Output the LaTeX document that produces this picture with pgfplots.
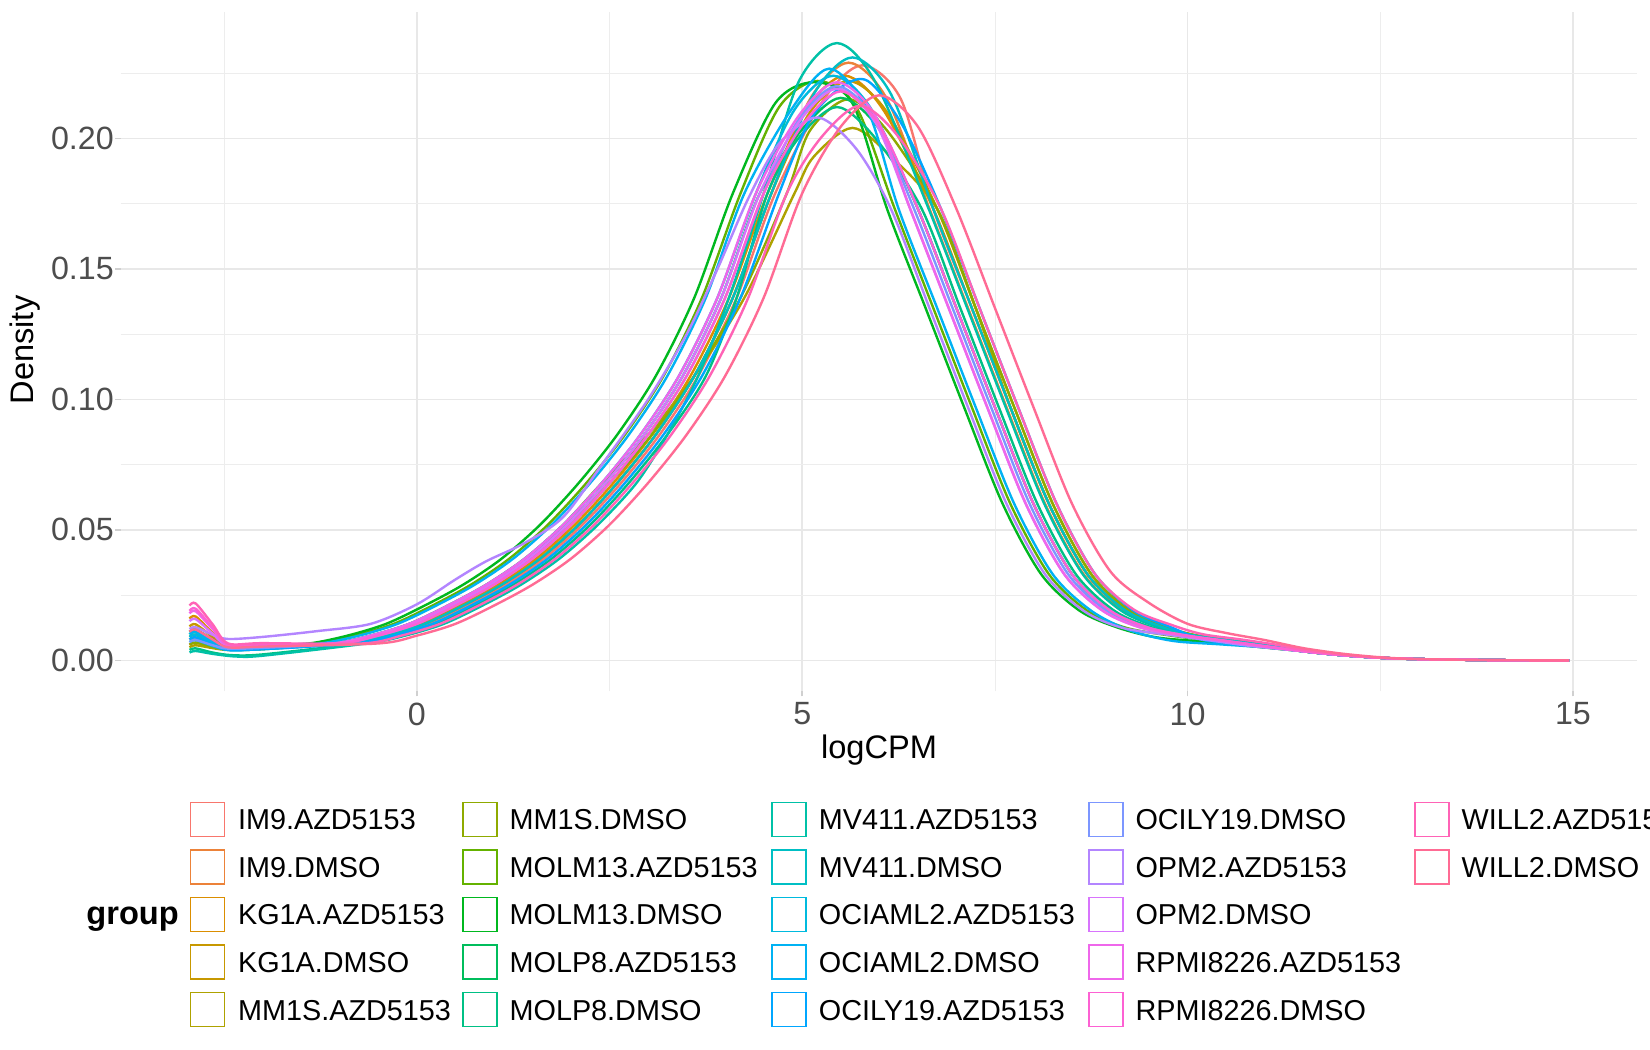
\documentclass[border=0pt]{standalone}
\usepackage{fontspec}
\setmainfont{Liberation Sans}
\usepackage{pgfplots}
\pgfplotsset{compat=1.18}
\definecolor{c0}{HTML}{F8766D}
\definecolor{c1}{HTML}{EC8239}
\definecolor{c2}{HTML}{DB8E00}
\definecolor{c3}{HTML}{C79800}
\definecolor{c4}{HTML}{AEA200}
\definecolor{c5}{HTML}{8FAA00}
\definecolor{c6}{HTML}{64B200}
\definecolor{c7}{HTML}{00B81F}
\definecolor{c8}{HTML}{00BD5C}
\definecolor{c9}{HTML}{00C085}
\definecolor{c10}{HTML}{00C1A7}
\definecolor{c11}{HTML}{00BFC4}
\definecolor{c12}{HTML}{00BADE}
\definecolor{c13}{HTML}{00B2F3}
\definecolor{c14}{HTML}{00A6FF}
\definecolor{c15}{HTML}{7C96FF}
\definecolor{c16}{HTML}{B385FF}
\definecolor{c17}{HTML}{D874FD}
\definecolor{c18}{HTML}{EF67EB}
\definecolor{c19}{HTML}{FD61D3}
\definecolor{c20}{HTML}{FF63B6}
\definecolor{c21}{HTML}{FF6B94}
\definecolor{gridc}{HTML}{E8E8E8}
\definecolor{mgridc}{HTML}{EDEDED}
\definecolor{tickc}{HTML}{D0D0D0}
\definecolor{grey30}{HTML}{4D4D4D}
\pgfplotsset{dens/.style={smooth, line width=1.2bp, mark=none}}
\newcommand{\tickfont}{\fontsize{16.1bp}{19bp}\selectfont}
\newcommand{\legfont}{\fontsize{14.4bp}{17bp}\selectfont}
\newcommand{\titfont}{\fontsize{16.3bp}{19bp}\selectfont}
\begin{document}
\begin{tikzpicture}
\path[use as bounding box] (0,0) rectangle (825bp,525bp);
\clip (0,0) rectangle (825bp,525bp);
\fill[white] (0,0) rectangle (825bp,525bp);
\begin{axis}[
  at={(60.25bp,179.4bp)}, anchor=south west,
  scale only axis, width=758.45bp, height=339.45bp,
  xmin=-3.846, xmax=15.836, ymin=-0.0118, ymax=0.2483,
  axis line style={draw=none},
  xtick={0,5,10,15}, ytick={0,0.05,0.1,0.15,0.2},
  minor xtick={-2.5,2.5,7.5,12.5},
  minor ytick={0.025,0.075,0.125,0.175,0.225},
  grid=both,
  major grid style={line width=0.8bp, draw=gridc},
  minor grid style={line width=0.45bp, draw=mgridc},
  tick align=outside, major tick length=2.6bp, minor tick length=0pt,
  xtick pos=bottom, ytick pos=left,
  tick style={draw=tickc, line width=0.8bp},
  /pgf/number format/assume math mode=true,
  yticklabel style={/pgf/number format/.cd, fixed, fixed zerofill, precision=2, /tikz/.cd, font=\tickfont, text=grey30, inner sep=0pt, xshift=-0.6bp},
  xticklabel style={font=\tickfont, text=grey30, inner sep=0pt, yshift=-3bp},
]
% IM9.AZD5153
\addplot[dens, c0] coordinates {(-2.95,0.006) (-2.87,0.0068) (-2.65,0.0052) (-2.45,0.0045) (-2,0.0048)
 (-0.85,0.0065) (-0.35,0.0095) (0.15,0.014) (0.65,0.021) (1.15,0.029) (1.65,0.039) (2.15,0.052) (2.65,0.068) (3.15,0.0865) (3.65,0.109) (4.15,0.139) (4.65,0.179)
 (5.28,0.215) (5.78,0.228) (6.28,0.215)
 (6.7,0.173) (7.2,0.135) (7.7,0.097) (8.2,0.060) (8.7,0.033) (9.2,0.019) (9.7,0.0125) (10.1,0.0095) (10.6,0.0075) (11.1,0.0055)
 (11.5,0.0035) (12,0.002) (12.5,0.001) (13,0.0005) (14,0.0001) (14.95,0)};
% IM9.DMSO
\addplot[dens, c1] coordinates {(-2.95,0.008) (-2.87,0.0088) (-2.65,0.0062) (-2.45,0.0045) (-2,0.0048)
 (-0.9,0.0065) (-0.4,0.0095) (0.1,0.014) (0.6,0.021) (1.1,0.029) (1.6,0.039) (2.1,0.052) (2.6,0.068) (3.1,0.0865) (3.6,0.109) (4.1,0.139) (4.6,0.179)
 (5.1,0.215) (5.6,0.229) (6.1,0.215)
 (6.65,0.173) (7.15,0.135) (7.65,0.097) (8.15,0.060) (8.65,0.033) (9.15,0.019) (9.65,0.0125) (10.075,0.0095) (10.575,0.0075) (11.075,0.0055)
 (11.5,0.0035) (12,0.002) (12.5,0.001) (13,0.0005) (14,0.0001) (14.95,0)};
% KG1A.AZD5153
\addplot[dens, c2] coordinates {(-2.95,0.016) (-2.87,0.0168) (-2.65,0.0105) (-2.45,0.005) (-2,0.0053)
 (-0.95,0.0065) (-0.45,0.0095) (0.05,0.014) (0.55,0.021) (1.05,0.029) (1.55,0.039) (2.05,0.052) (2.55,0.068) (3.05,0.0865) (3.55,0.109) (4.05,0.139) (4.55,0.179)
 (5.05,0.211) (5.55,0.224) (6.05,0.211)
 (6.7,0.173) (7.2,0.135) (7.7,0.097) (8.2,0.060) (8.7,0.033) (9.2,0.019) (9.7,0.0125) (10.1,0.0095) (10.6,0.0075) (11.1,0.0055)
 (11.5,0.0035) (12,0.002) (12.5,0.001) (13,0.0005) (14,0.0001) (14.95,0)};
% KG1A.DMSO
\addplot[dens, c3] coordinates {(-2.95,0.013) (-2.87,0.0138) (-2.65,0.009) (-2.45,0.005) (-2,0.0053)
 (-0.9,0.0065) (-0.4,0.0095) (0.1,0.014) (0.6,0.021) (1.1,0.029) (1.6,0.039) (2.1,0.052) (2.6,0.068) (3.1,0.0865) (3.6,0.109) (4.1,0.139) (4.6,0.179)
 (5.1,0.210) (5.6,0.222) (6.1,0.210)
 (6.75,0.173) (7.25,0.135) (7.75,0.097) (8.25,0.060) (8.75,0.033) (9.25,0.019) (9.75,0.0125) (10.125,0.0095) (10.625,0.0075) (11.125,0.0055)
 (11.5,0.0035) (12,0.002) (12.5,0.001) (13,0.0005) (14,0.0001) (14.95,0)};
% MM1S.AZD5153
\addplot[dens, c4] coordinates {(-2.95,0.005) (-2.87,0.0058) (-2.65,0.0047) (-2.45,0.004) (-2,0.0043)
 (-1.1,0.0065) (-0.6,0.0095) (-0.1,0.014) (0.4,0.021) (0.9,0.029) (1.4,0.039) (1.9,0.052) (2.4,0.068) (3.0,0.0865) (3.6,0.109) (4.25,0.139) (4.9,0.179)
 (5.15,0.193) (5.65,0.204) (6.15,0.193)
 (6.75,0.173) (7.25,0.135) (7.7,0.097) (8.2,0.060) (8.7,0.033) (9.2,0.019) (9.7,0.0125) (10.1,0.0095) (10.6,0.0075) (11.1,0.0055)
 (11.5,0.0035) (12,0.002) (12.5,0.001) (13,0.0005) (14,0.0001) (14.95,0)};
% MM1S.DMSO
\addplot[dens, c5] coordinates {(-2.95,0.006) (-2.87,0.0068) (-2.65,0.0052) (-2.45,0.0045) (-2,0.0048)
 (-1,0.0065) (-0.5,0.0095) (0,0.014) (0.5,0.021) (1,0.029) (1.5,0.039) (2,0.052) (2.5,0.068) (3.05,0.0865) (3.6,0.109) (4.2,0.139) (4.8,0.179)
 (5.1,0.203) (5.6,0.215) (6.1,0.203)
 (6.75,0.173) (7.25,0.135) (7.75,0.097) (8.25,0.060) (8.75,0.033) (9.25,0.019) (9.75,0.0125) (10.125,0.0095) (10.625,0.0075) (11.125,0.0055)
 (11.5,0.0035) (12,0.002) (12.5,0.001) (13,0.0005) (14,0.0001) (14.95,0)};
% MOLM13.AZD5153
\addplot[dens, c6] coordinates {(-2.95,0.009) (-2.87,0.0098) (-2.65,0.007) (-2.45,0.005) (-2,0.0055)
 (-1.3,0.0065) (-0.8,0.0095) (-0.3,0.014) (0.2,0.021) (0.7,0.029) (1.2,0.039) (1.7,0.052) (2.2,0.068) (2.7,0.0865) (3.2,0.109) (3.7,0.139) (4.2,0.179)
 (4.7,0.212) (5.2,0.222) (5.7,0.212)
 (6.2,0.173) (6.7,0.135) (7.2,0.097) (7.7,0.060) (8.2,0.033) (8.7,0.019) (9.2,0.0125) (9.85,0.0092) (10.35,0.0075) (10.85,0.0055)
 (11.5,0.0035) (12,0.002) (12.5,0.001) (13,0.0005) (14,0.0001) (14.95,0)};
% MOLM13.DMSO
\addplot[dens, c7] coordinates {(-2.95,0.011) (-2.87,0.0118) (-2.65,0.008) (-2.45,0.005) (-2,0.0058)
 (-1.4,0.0065) (-0.9,0.0095) (-0.4,0.014) (0.1,0.021) (0.6,0.029) (1.1,0.039) (1.6,0.052) (2.1,0.068) (2.6,0.0865) (3.1,0.109) (3.6,0.139) (4.1,0.179)
 (4.65,0.2135) (5.15,0.2215) (5.65,0.2135)
 (6.1,0.173) (6.6,0.135) (7.1,0.097) (7.6,0.060) (8.1,0.033) (8.6,0.019) (9.1,0.0125) (9.6,0.0088) (10.2,0.0072) (10.8,0.0055)
 (11.5,0.0035) (12,0.002) (12.5,0.001) (13,0.0005) (14,0.0001) (14.95,0)};
% MOLP8.AZD5153
\addplot[dens, c8] coordinates {(-2.95,0.010) (-2.87,0.0108) (-2.65,0.0072) (-2.45,0.0045) (-2,0.0048)
 (-1.05,0.0065) (-0.55,0.0095) (-0.05,0.014) (0.45,0.021) (0.95,0.029) (1.45,0.039) (1.95,0.052) (2.45,0.068) (2.95,0.0865) (3.45,0.109) (3.95,0.139) (4.45,0.179)
 (5.0,0.2035) (5.5,0.2155) (6.0,0.2035)
 (6.5,0.173) (7,0.135) (7.5,0.097) (8,0.060) (8.5,0.033) (9,0.019) (9.5,0.0125) (10,0.0095) (10.5,0.0075) (11,0.0055)
 (11.5,0.0035) (12,0.002) (12.5,0.001) (13,0.0005) (14,0.0001) (14.95,0)};
% MOLP8.DMSO
\addplot[dens, c9] coordinates {(-2.95,0.004) (-2.87,0.0046) (-2.65,0.003) (-2.4,0.002) (-2,0.0023)
 (-0.75,0.0065) (-0.25,0.0095) (0.25,0.014) (0.75,0.021) (1.25,0.029) (1.75,0.039) (2.25,0.052) (2.75,0.068) (3.25,0.0865) (3.75,0.109) (4.15,0.139) (4.55,0.179)
 (4.95,0.200) (5.45,0.212) (5.95,0.200)
 (6.55,0.173) (7.05,0.135) (7.55,0.097) (8.05,0.060) (8.55,0.033) (9.05,0.019) (9.55,0.0125) (10.025,0.0095) (10.525,0.0075) (11.025,0.0055)
 (11.5,0.0035) (12,0.002) (12.5,0.001) (13,0.0005) (14,0.0001) (14.95,0)};
% MV411.AZD5153
\addplot[dens, c10] coordinates {(-2.95,0.003) (-2.87,0.0036) (-2.65,0.0025) (-2.35,0.0015) (-2,0.0018)
 (-0.65,0.0065) (-0.15,0.0095) (0.35,0.014) (0.85,0.021) (1.35,0.029) (1.85,0.039) (2.35,0.052) (2.85,0.068) (3.25,0.0865) (3.65,0.109) (4.05,0.139) (4.5,0.179)
 (4.95,0.2215) (5.45,0.2365) (5.95,0.2215)
 (6.64,0.173) (7.14,0.135) (7.64,0.097) (8.14,0.060) (8.64,0.033) (9.14,0.019) (9.64,0.0125) (10.07,0.0095) (10.57,0.0075) (11.07,0.0055)
 (11.5,0.0035) (12,0.002) (12.5,0.001) (13,0.0005) (14,0.0001) (14.95,0)};
% MV411.DMSO
\addplot[dens, c11] coordinates {(-2.95,0.007) (-2.87,0.0078) (-2.65,0.0055) (-2.45,0.004) (-2,0.0043)
 (-0.9,0.0065) (-0.4,0.0095) (0.1,0.014) (0.6,0.021) (1.1,0.029) (1.6,0.039) (2.1,0.052) (2.6,0.068) (3.1,0.0865) (3.6,0.109) (4.1,0.139) (4.6,0.179)
 (5.15,0.217) (5.65,0.231) (6.15,0.217)
 (6.7,0.173) (7.2,0.135) (7.7,0.097) (8.2,0.060) (8.7,0.033) (9.2,0.019) (9.7,0.0125) (10.1,0.0095) (10.6,0.0075) (11.1,0.0055)
 (11.5,0.0035) (12,0.002) (12.5,0.001) (13,0.0005) (14,0.0001) (14.95,0)};
% OCIAML2.AZD5153
\addplot[dens, c12] coordinates {(-2.95,0.009) (-2.87,0.0098) (-2.65,0.0068) (-2.45,0.0045) (-2,0.0048)
 (-1.1,0.0065) (-0.6,0.0095) (-0.1,0.014) (0.4,0.021) (0.9,0.029) (1.4,0.039) (1.9,0.052) (2.4,0.068) (2.9,0.0865) (3.4,0.109) (3.9,0.139) (4.4,0.179)
 (4.9,0.211) (5.4,0.224) (5.9,0.211)
 (6.5,0.173) (7,0.135) (7.5,0.097) (8,0.060) (8.5,0.033) (9,0.019) (9.5,0.0125) (10,0.0095) (10.5,0.0075) (11,0.0055)
 (11.5,0.0035) (12,0.002) (12.5,0.001) (13,0.0005) (14,0.0001) (14.95,0)};
% OCIAML2.DMSO
\addplot[dens, c13] coordinates {(-2.95,0.010) (-2.87,0.0108) (-2.65,0.007) (-2.45,0.004) (-2,0.0045)
 (-1.25,0.0065) (-0.75,0.0095) (-0.25,0.014) (0.25,0.021) (0.75,0.029) (1.25,0.039) (1.75,0.052) (2.25,0.068) (2.75,0.0865) (3.25,0.109) (3.75,0.139) (4.25,0.179)
 (4.85,0.2107) (5.35,0.2267) (5.85,0.2107)
 (6.25,0.173) (6.75,0.135) (7.25,0.097) (7.75,0.060) (8.25,0.033) (8.75,0.019) (9.25,0.0115) (9.8,0.0075) (10.4,0.0062) (11.0,0.005)
 (11.5,0.0035) (12,0.002) (12.5,0.001) (13,0.0005) (14,0.0001) (14.95,0)};
% OCILY19.AZD5153
\addplot[dens, c14] coordinates {(-2.95,0.008) (-2.87,0.0088) (-2.65,0.006) (-2.45,0.004) (-2,0.0043)
 (-0.8,0.0065) (-0.3,0.0095) (0.2,0.014) (0.7,0.021) (1.2,0.029) (1.7,0.039) (2.2,0.052) (2.7,0.068) (3.2,0.0865) (3.7,0.109) (4.2,0.139) (4.7,0.179)
 (5.1,0.207) (5.5,0.2195) (5.85,0.222) (6.3,0.205)
 (6.8,0.173) (7.3,0.135) (7.8,0.097) (8.3,0.060) (8.8,0.033) (9.3,0.019) (9.8,0.0125) (10.2,0.0078) (10.65,0.0065) (11.1,0.0052)
 (11.5,0.0035) (12,0.002) (12.5,0.001) (13,0.0005) (14,0.0001) (14.95,0)};
% OCILY19.DMSO
\addplot[dens, c15] coordinates {(-2.95,0.007) (-2.87,0.0078) (-2.65,0.0058) (-2.45,0.0045) (-2,0.0048)
 (-1,0.0065) (-0.5,0.0095) (0,0.014) (0.5,0.021) (1,0.029) (1.5,0.039) (2,0.052) (2.5,0.068) (3,0.0865) (3.5,0.109) (4,0.139) (4.5,0.179)
 (4.95,0.207) (5.45,0.22) (5.95,0.207)
 (6.45,0.173) (6.95,0.135) (7.45,0.097) (7.95,0.060) (8.45,0.033) (8.95,0.019) (9.45,0.0125) (9.975,0.0095) (10.475,0.0075) (10.975,0.0055)
 (11.5,0.0035) (12,0.002) (12.5,0.001) (13,0.0005) (14,0.0001) (14.95,0)};
% OPM2.AZD5153
\addplot[dens, c16] coordinates {(-2.95,0.012) (-2.87,0.0127) (-2.65,0.0098) (-2.45,0.0082) (-2.0,0.009) (-1.3,0.0112) (-0.6,0.014)
 (0,0.0215) (0.5,0.031) (0.9,0.038) (1.4,0.045) (1.9,0.055) (2.4,0.075) (3.0,0.1) (3.5,0.125) (3.9,0.15) (4.3,0.177) (4.7,0.198)
 (5.2,0.208) (5.7,0.196)
 (6.15,0.173) (6.65,0.135) (7.15,0.097) (7.65,0.060) (8.15,0.033) (8.65,0.019) (9.15,0.0125) (9.825,0.0095) (10.325,0.0075) (10.825,0.0055)
 (11.5,0.0035) (12,0.002) (12.5,0.001) (13,0.0005) (14,0.0001) (14.95,0)};
% OPM2.DMSO
\addplot[dens, c17] coordinates {(-2.95,0.015) (-2.87,0.0158) (-2.65,0.0102) (-2.45,0.0055) (-2,0.0058)
 (-1.05,0.0065) (-0.55,0.0095) (-0.05,0.014) (0.45,0.021) (0.95,0.029) (1.45,0.039) (1.95,0.052) (2.45,0.068) (2.95,0.0865) (3.45,0.109) (3.95,0.139) (4.45,0.179)
 (4.95,0.206) (5.45,0.219) (5.95,0.206)
 (6.4,0.173) (6.9,0.135) (7.4,0.097) (7.9,0.060) (8.4,0.033) (8.9,0.019) (9.4,0.0125) (9.95,0.0095) (10.45,0.0075) (10.95,0.0055)
 (11.5,0.0035) (12,0.002) (12.5,0.001) (13,0.0005) (14,0.0001) (14.95,0)};
% RPMI8226.AZD5153
\addplot[dens, c18] coordinates {(-2.95,0.018) (-2.87,0.0188) (-2.65,0.012) (-2.45,0.006) (-2,0.0062)
 (-1.1,0.0065) (-0.6,0.0095) (-0.1,0.014) (0.4,0.021) (0.9,0.029) (1.4,0.039) (1.9,0.052) (2.4,0.068) (2.9,0.0865) (3.4,0.109) (3.9,0.139) (4.4,0.179)
 (4.95,0.2085) (5.45,0.2215) (5.95,0.2085)
 (6.4,0.173) (6.9,0.135) (7.4,0.097) (7.9,0.060) (8.4,0.033) (8.9,0.019) (9.4,0.0125) (9.95,0.0095) (10.45,0.0075) (10.95,0.0055)
 (11.5,0.0035) (12,0.002) (12.5,0.001) (13,0.0005) (14,0.0001) (14.95,0)};
% RPMI8226.DMSO
\addplot[dens, c19] coordinates {(-2.95,0.019) (-2.87,0.0198) (-2.65,0.0125) (-2.45,0.006) (-2,0.0062)
 (-1,0.0065) (-0.5,0.0095) (0,0.014) (0.5,0.021) (1,0.029) (1.5,0.039) (2,0.052) (2.5,0.068) (3,0.0865) (3.5,0.109) (4,0.139) (4.5,0.179)
 (5.0,0.205) (5.5,0.218) (6.0,0.205)
 (6.5,0.173) (7,0.135) (7.5,0.097) (8,0.060) (8.5,0.033) (9,0.019) (9.5,0.0125) (10,0.0095) (10.5,0.0075) (11,0.0055)
 (11.5,0.0035) (12,0.002) (12.5,0.001) (13,0.0005) (14,0.0001) (14.95,0)};
% WILL2.AZD5153
\addplot[dens, c20] coordinates {(-2.95,0.021) (-2.87,0.0218) (-2.65,0.0138) (-2.45,0.0065) (-2,0.0066)
 (-0.7,0.0065) (-0.2,0.0095) (0.3,0.014) (0.8,0.021) (1.3,0.029) (1.8,0.039) (2.3,0.052) (2.8,0.068) (3.3,0.0865) (3.8,0.109) (4.3,0.139) (4.8,0.179)
 (5.25,0.2005) (5.75,0.2125) (6.25,0.2005)
 (6.8,0.173) (7.3,0.135) (7.8,0.097) (8.3,0.060) (8.8,0.033) (9.3,0.0195) (9.8,0.0135) (10.2,0.010) (10.7,0.008) (11.15,0.006)
 (11.5,0.004) (12,0.0022) (12.5,0.001) (13,0.0005) (14,0.0001) (14.95,0)};
% WILL2.DMSO
\addplot[dens, c21] coordinates {(-2.95,0.011) (-2.87,0.0118) (-2.65,0.008) (-2.45,0.005) (-2,0.0053)
 (-0.5,0.0065) (0,0.0095) (0.5,0.014) (1,0.021) (1.5,0.029) (2,0.039) (2.5,0.052) (3,0.068) (3.5,0.0865) (4,0.109) (4.5,0.139) (5,0.179)
 (5.5,0.2045) (6.0,0.2165) (6.5,0.2045)
 (7.0,0.173) (7.5,0.135) (8.0,0.097) (8.5,0.060) (9.0,0.034) (9.5,0.022) (10,0.014) (10.5,0.0105) (11,0.0078)
 (11.5,0.0047) (12,0.0026) (12.5,0.0012) (13,0.0005) (14,0.0001) (14.95,0)};
\end{axis}
% axis titles
\node[anchor=base, inner sep=0pt, font=\titfont] at (439.5bp,145.5bp) {logCPM};
\node[anchor=base, inner sep=0pt, rotate=90, font=\titfont] at (16.75bp,350bp) {Density};
% legend
\node[anchor=base west, inner sep=0pt, font=\titfont\bfseries] at (43bp,62.5bp) {group};
\def\lw{0.8bp}
% column 1
\draw[c0, line width=\lw] (95.2bp,106.75bp) rectangle (112.2bp,123.75bp);
\node[anchor=base west, inner sep=0pt, font=\legfont] at (118.85bp,110bp) {IM9.AZD5153};
\draw[c1, line width=\lw] (95.2bp,83bp) rectangle (112.2bp,100bp);
\node[anchor=base west, inner sep=0pt, font=\legfont] at (118.85bp,86.25bp) {IM9.DMSO};
\draw[c2, line width=\lw] (95.2bp,59.25bp) rectangle (112.2bp,76.25bp);
\node[anchor=base west, inner sep=0pt, font=\legfont] at (118.85bp,62.5bp) {KG1A.AZD5153};
\draw[c3, line width=\lw] (95.2bp,35.5bp) rectangle (112.2bp,52.5bp);
\node[anchor=base west, inner sep=0pt, font=\legfont] at (118.85bp,38.75bp) {KG1A.DMSO};
\draw[c4, line width=\lw] (95.2bp,11.75bp) rectangle (112.2bp,28.75bp);
\node[anchor=base west, inner sep=0pt, font=\legfont] at (118.85bp,15bp) {MM1S.AZD5153};
% column 2
\draw[c5, line width=\lw] (231.45bp,106.75bp) rectangle (248.45bp,123.75bp);
\node[anchor=base west, inner sep=0pt, font=\legfont] at (254.6bp,110bp) {MM1S.DMSO};
\draw[c6, line width=\lw] (231.45bp,83bp) rectangle (248.45bp,100bp);
\node[anchor=base west, inner sep=0pt, font=\legfont] at (254.6bp,86.25bp) {MOLM13.AZD5153};
\draw[c7, line width=\lw] (231.45bp,59.25bp) rectangle (248.45bp,76.25bp);
\node[anchor=base west, inner sep=0pt, font=\legfont] at (254.6bp,62.5bp) {MOLM13.DMSO};
\draw[c8, line width=\lw] (231.45bp,35.5bp) rectangle (248.45bp,52.5bp);
\node[anchor=base west, inner sep=0pt, font=\legfont] at (254.6bp,38.75bp) {MOLP8.AZD5153};
\draw[c9, line width=\lw] (231.45bp,11.75bp) rectangle (248.45bp,28.75bp);
\node[anchor=base west, inner sep=0pt, font=\legfont] at (254.6bp,15bp) {MOLP8.DMSO};
% column 3
\draw[c10, line width=\lw] (386.1bp,106.75bp) rectangle (403.1bp,123.75bp);
\node[anchor=base west, inner sep=0pt, font=\legfont] at (409.25bp,110bp) {MV411.AZD5153};
\draw[c11, line width=\lw] (386.1bp,83bp) rectangle (403.1bp,100bp);
\node[anchor=base west, inner sep=0pt, font=\legfont] at (409.25bp,86.25bp) {MV411.DMSO};
\draw[c12, line width=\lw] (386.1bp,59.25bp) rectangle (403.1bp,76.25bp);
\node[anchor=base west, inner sep=0pt, font=\legfont] at (409.25bp,62.5bp) {OCIAML2.AZD5153};
\draw[c13, line width=\lw] (386.1bp,35.5bp) rectangle (403.1bp,52.5bp);
\node[anchor=base west, inner sep=0pt, font=\legfont] at (409.25bp,38.75bp) {OCIAML2.DMSO};
\draw[c14, line width=\lw] (386.1bp,11.75bp) rectangle (403.1bp,28.75bp);
\node[anchor=base west, inner sep=0pt, font=\legfont] at (409.25bp,15bp) {OCILY19.AZD5153};
% column 4
\draw[c15, line width=\lw] (544.4bp,106.75bp) rectangle (561.4bp,123.75bp);
\node[anchor=base west, inner sep=0pt, font=\legfont] at (567.55bp,110bp) {OCILY19.DMSO};
\draw[c16, line width=\lw] (544.4bp,83bp) rectangle (561.4bp,100bp);
\node[anchor=base west, inner sep=0pt, font=\legfont] at (567.55bp,86.25bp) {OPM2.AZD5153};
\draw[c17, line width=\lw] (544.4bp,59.25bp) rectangle (561.4bp,76.25bp);
\node[anchor=base west, inner sep=0pt, font=\legfont] at (567.55bp,62.5bp) {OPM2.DMSO};
\draw[c18, line width=\lw] (544.4bp,35.5bp) rectangle (561.4bp,52.5bp);
\node[anchor=base west, inner sep=0pt, font=\legfont] at (567.55bp,38.75bp) {RPMI8226.AZD5153};
\draw[c19, line width=\lw] (544.4bp,11.75bp) rectangle (561.4bp,28.75bp);
\node[anchor=base west, inner sep=0pt, font=\legfont] at (567.55bp,15bp) {RPMI8226.DMSO};
% column 5
\draw[c20, line width=\lw] (707.5bp,106.75bp) rectangle (724.5bp,123.75bp);
\node[anchor=base west, inner sep=0pt, font=\legfont] at (730.6bp,110bp) {WILL2.AZD5153};
\draw[c21, line width=\lw] (707.5bp,83bp) rectangle (724.5bp,100bp);
\node[anchor=base west, inner sep=0pt, font=\legfont] at (730.6bp,86.25bp) {WILL2.DMSO};
\end{tikzpicture}
\end{document}
